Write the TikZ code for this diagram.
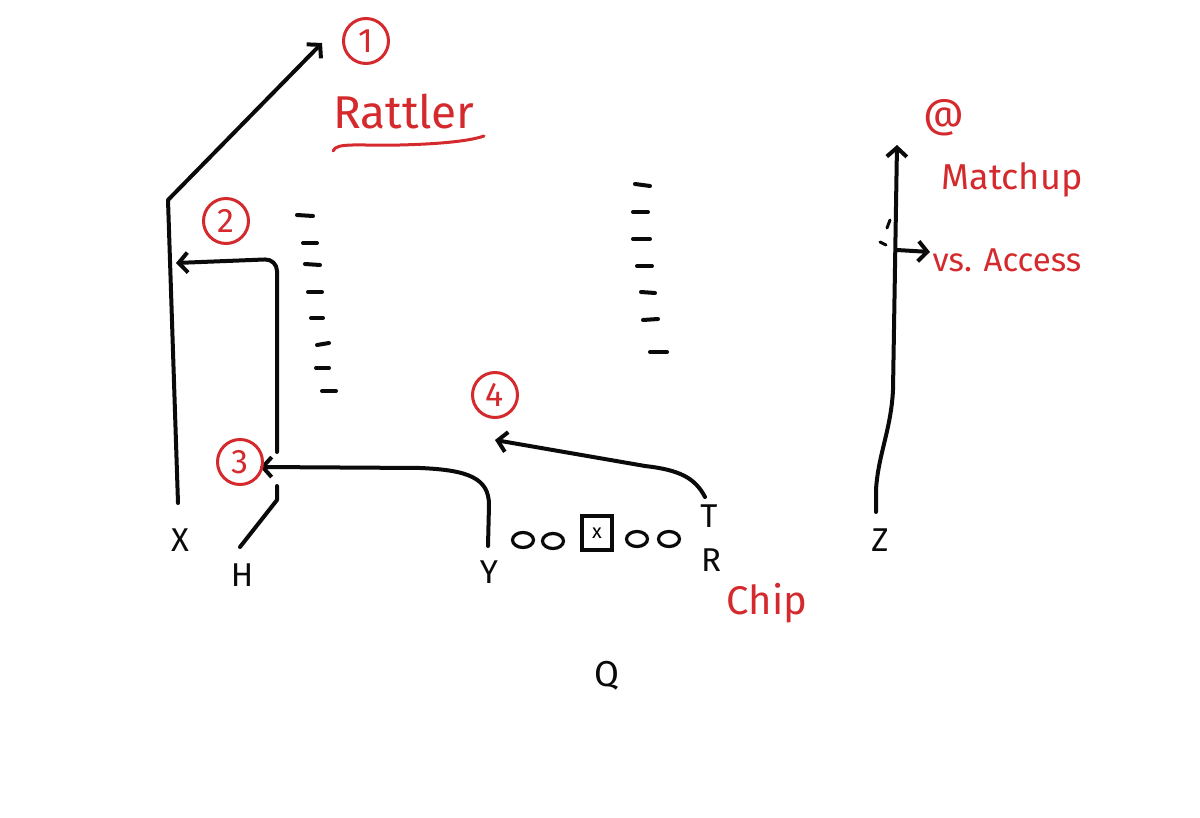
\documentclass[tikz,border=0pt]{standalone}
\usepackage{fontspec}
\setmainfont{Fira Sans}
\usepackage{tikz}
\usetikzlibrary{arrows.meta}
\usetikzlibrary{shapes.geometric}
\tikzset{>={Straight Barb[length=9pt,width=20pt]}}
\definecolor{inkred}{HTML}{D42A2E}
\definecolor{ink}{HTML}{0A0A0A}
\newcommand{\INKRED}[1]{\textcolor{inkred}{#1}}
\newcommand{\fsz}[1]{\fontsize{#1}{#1}\selectfont}

\begin{document}
\begin{tikzpicture}[x=1pt,y=-1pt,
    route/.style={line width=4pt, color=ink, line cap=round, line join=round},
    player/.style={font=\fsz{33}, text=ink, inner sep=0pt},
    lineman/.style={ellipse, draw=ink, line width=3.2pt,
      minimum width=21pt, minimum height=15pt, inner sep=0pt},
    tag/.style={circle, draw=inkred, line width=3pt, minimum size=45pt,
      inner sep=0pt, text=inkred, font=\fsz{34}},
    note/.style={text=inkred, inner sep=0pt},
    hash/.style={line width=4pt, color=ink, line cap=round}]

  \useasboundingbox (0,0) rectangle (1200,818);

  %% players
  \node[player] (X) at (180,540) {X};
  \node[player] (H) at (242,575) {H};
  \node[player] (Y) at (489,572) {Y};
  \node[player] (T) at (709,516) {T};
  \node[player] (R) at (711,560) {R};
  \node[player] (Z) at (880,540) {Z};
  \node[player, font=\fsz{36}] (Q) at (607,676) {Q};

  %% line
  \node[lineman] (lt) at (523,540) {};
  \node[lineman] (lg) at (553,541) {};
  \node[draw=ink, line width=3.2pt, minimum width=30pt, minimum height=34pt,
    inner sep=0pt, font=\fsz{20}] (C) at (597,533) {x};
  \node[lineman] (rg) at (637,539) {};
  \node[lineman] (rt) at (669,539) {};

  %% hash marks
  \draw[hash] (297,215) -- (313,216);
  \draw[hash] (303,243) -- (317,243);
  \draw[hash] (305,264) -- (320,265);
  \draw[hash] (308,292) -- (322,292);
  \draw[hash] (311,318) -- (323,318);
  \draw[hash] (317,345) -- (329,343);
  \draw[hash] (316,368) -- (329,368);
  \draw[hash] (322,391) -- (336,391);

  \draw[hash] (635,184) -- (650,186);
  \draw[hash] (633,212) -- (648,212);
  \draw[hash] (633,239) -- (650,239);
  \draw[hash] (637,266) -- (652,266);
  \draw[hash] (641,292) -- (655,293);
  \draw[hash] (643,320) -- (658,319);
  \draw[hash] (650,352) -- (667,352);

  %% route ends
  \coordinate (xs) at (178,503);
  \coordinate (x1) at (322,43);
  \coordinate (hs) at (240,547);
  \coordinate (hcut) at (277,486);
  \coordinate (hup) at (277,452);
  \coordinate (h2) at (176,263);
  \coordinate (ys) at (488,546);
  \coordinate (y3) at (260,467);
  \coordinate (ts) at (705,497);
  \coordinate (t4) at (495,440);
  \coordinate (zs) at (876,512);
  \coordinate (zdeep) at (897,145);
  \coordinate (zbreak) at (897,250);
  \coordinate (zout) at (930,252);

  %% routes
  \draw[route,->] (xs) -- (168,200) -- (x1); %% X -> 1
  \draw[route] (hs) -- (277,500) -- (hcut);
  \draw[route,->,rounded corners=12pt] (hup) -- (277,259) -- (h2); %% H -> 2
  \draw[route,->] (ys) -- (489,505) .. controls (489,478) and (468,470)
  .. (420,468) -- (y3); %% Y -> 3
  \draw[route,->] (ts) .. controls (695,478) and (680,470)
  .. (645,466) -- (t4); %% T -> 4
  \draw[route,->] (zs) -- (876,490) .. controls (878,455) and (891,430)
  .. (893,390) -- (zdeep); %% Z
  \draw[route,->] (zbreak) -- (zout);
  \draw[hash, line width=3pt] (887,228) -- (890,220);
  \draw[hash, line width=3pt] (880,242) -- (886,245);

  %% tags
  \node[tag] (n1) at (366,41) {1};
  \node[tag] (n2) at (226,221) {2};
  \node[tag] (n3) at (240,462) {3};
  \node[tag] (n4) at (495,395) {4};

  \node[note, font=\fsz{46}] (rattler) at (404,112) {Rattler};
  \draw[inkred, line width=3pt, line cap=round]
  (333,151) .. controls (336,142) and (360,146) .. (400,145)
  .. controls (440,144) and (470,141) .. (484,136);

  \node[note, font=\fsz{40}] (at) at (944,118) {@};
  \node[note, font=\fsz{36}] (matchup) at (1012,180) {Matchup};
  \node[note, font=\fsz{33}] (access) at (1007,260) {vs. Access};
  \node[note, font=\fsz{40}] (chip) at (767,603) {Chip};

\end{tikzpicture}
\end{document}
